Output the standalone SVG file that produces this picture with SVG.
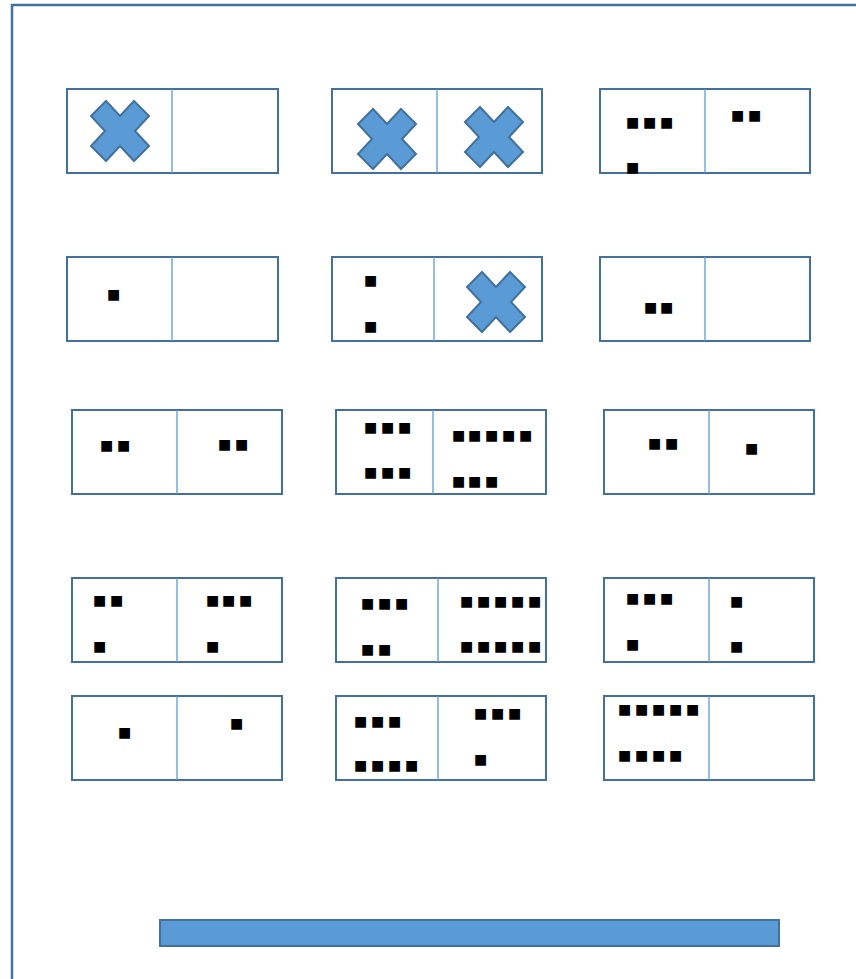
<svg xmlns="http://www.w3.org/2000/svg" width="856" height="979" viewBox="0 0 856 979">
<style>
.frame{fill:none;stroke:#41719C;stroke-width:2.5}
.box{fill:#fff;stroke:#41719C;stroke-width:2}
.div{stroke:#5B9BD5;stroke-width:1.3}
.x{fill:#5B9BD5;stroke:#41719C;stroke-width:2;stroke-linejoin:miter}
.d{font-family:"DejaVu Sans",sans-serif;font-size:14px;fill:#000}
.bar{fill:#5B9BD5;stroke:#41719C;stroke-width:2}
</style>
<defs>
<path id="cross" d="M-29,-15 L-14,-30 L0,-15 L14,-30 L29,-15 L15,0 L29,15 L14,30 L0,15 L-14,30 L-29,15 L-15,0 Z"/>
</defs>
<rect class="frame" x="12" y="5" width="870" height="1000"/>
<g id="connectors"/>
<g id="r1c1"><rect class="box" x="67" y="89" width="211" height="84"/><line class="div" x1="172" y1="89" x2="172" y2="173"/><use href="#cross" class="x" x="120" y="131"/></g>
<g id="r1c2"><rect class="box" x="332" y="89" width="210" height="84"/><line class="div" x1="437" y1="89" x2="437" y2="173"/><use href="#cross" class="x" x="387" y="139"/><use href="#cross" class="x" x="494" y="137"/></g>
<g id="r1c3"><rect class="box" x="600" y="89" width="210" height="84"/><line class="div" x1="705" y1="89" x2="705" y2="173"/>
<text class="d" x="626 643 660" y="127">■■■</text><text class="d" x="626" y="172">■</text><text class="d" x="731 748" y="120">■■</text></g>
<g id="r2c1"><rect class="box" x="67" y="257" width="211" height="84"/><line class="div" x1="172" y1="257" x2="172" y2="341"/><text class="d" x="107" y="299">■</text></g>
<g id="r2c2"><rect class="box" x="332" y="257" width="210" height="84"/><line class="div" x1="434" y1="257" x2="434" y2="341"/><text class="d" x="364" y="285">■</text><text class="d" x="364" y="331">■</text><use href="#cross" class="x" x="496" y="302"/></g>
<g id="r2c3"><rect class="box" x="600" y="257" width="210" height="84"/><line class="div" x1="705" y1="257" x2="705" y2="341"/><text class="d" x="644 660" y="312">■■</text></g>
<g id="r3c1"><rect class="box" x="72" y="410" width="210" height="84"/><line class="div" x1="177" y1="410" x2="177" y2="494"/><text class="d" x="100 117" y="450">■■</text><text class="d" x="218 235" y="449">■■</text></g>
<g id="r3c2"><rect class="box" x="336" y="410" width="210" height="84"/><line class="div" x1="433" y1="410" x2="433" y2="494"/><text class="d" x="364 381 398" y="432">■■■</text><text class="d" x="364 381 398" y="477">■■■</text><text class="d" x="452 468 485 502 519" y="440">■■■■■</text><text class="d" x="452 468 485" y="486">■■■</text></g>
<g id="r3c3"><rect class="box" x="604" y="410" width="210" height="84"/><line class="div" x1="709" y1="410" x2="709" y2="494"/><text class="d" x="648 665" y="448">■■</text><text class="d" x="745" y="453">■</text></g>
<g id="r4c1"><rect class="box" x="72" y="578" width="210" height="84"/><line class="div" x1="177" y1="578" x2="177" y2="662"/><text class="d" x="93 110" y="605">■■</text><text class="d" x="93" y="651">■</text><text class="d" x="206 222 239" y="605">■■■</text><text class="d" x="206" y="651">■</text></g>
<g id="r4c2"><rect class="box" x="336" y="578" width="210" height="84"/><line class="div" x1="438" y1="578" x2="438" y2="662"/><text class="d" x="361 378 395" y="608">■■■</text><text class="d" x="361 378" y="654">■■</text><text class="d" x="460 477 494 511 528" y="606">■■■■■</text><text class="d" x="460 477 494 511 528" y="651">■■■■■</text></g>
<g id="r4c3"><rect class="box" x="604" y="578" width="210" height="84"/><line class="div" x1="709" y1="578" x2="709" y2="662"/><text class="d" x="626 643 660" y="603">■■■</text><text class="d" x="626" y="649">■</text><text class="d" x="730" y="606">■</text><text class="d" x="730" y="651">■</text></g>
<g id="r5c1"><rect class="box" x="72" y="696" width="210" height="84"/><line class="div" x1="177" y1="696" x2="177" y2="780"/><text class="d" x="118" y="737">■</text><text class="d" x="230" y="728">■</text></g>
<g id="r5c2"><rect class="box" x="336" y="696" width="210" height="84"/><line class="div" x1="438" y1="696" x2="438" y2="780"/><text class="d" x="354 371 388" y="726">■■■</text><text class="d" x="354 371 388 405" y="770">■■■■</text><text class="d" x="474 491 508" y="718">■■■</text><text class="d" x="474" y="764">■</text></g>
<g id="r5c3"><rect class="box" x="604" y="696" width="210" height="84"/><line class="div" x1="709" y1="696" x2="709" y2="780"/><text class="d" x="618 635 652 669 686" y="714">■■■■■</text><text class="d" x="618 635 652 669" y="760">■■■■</text></g>
<rect id="bar" class="bar" x="160" y="920" width="619" height="26"/>
</svg>
